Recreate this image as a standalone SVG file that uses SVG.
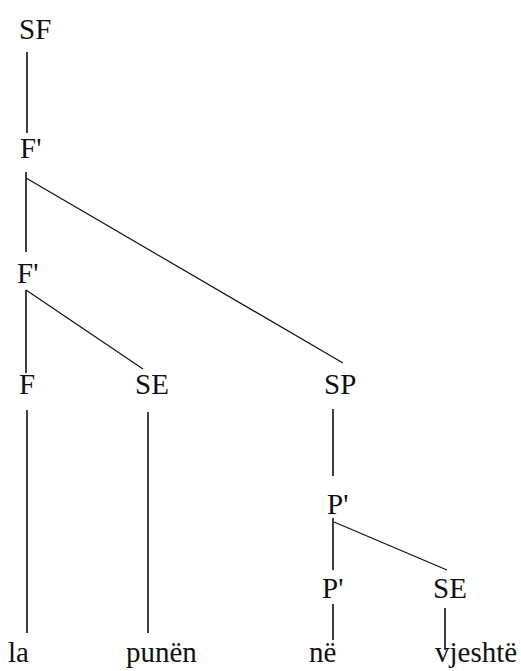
<svg xmlns="http://www.w3.org/2000/svg" width="521" height="671" viewBox="0 0 521 671">
<style>
.t{font-size:29px;fill:#111}
.v{stroke:#111;stroke-width:1.6;fill:none}
.d{stroke:#111;stroke-width:1.2;fill:none}
</style>
<rect width="521" height="671" fill="#fff"/>
<g id="connectors">
<line class="v" x1="27" y1="52" x2="27" y2="133"/>
<line class="v" x1="26" y1="172" x2="26" y2="252"/>
<line class="d" x1="26" y1="178" x2="343" y2="363"/>
<line class="v" x1="26" y1="290" x2="26" y2="373"/>
<line class="d" x1="26" y1="290" x2="143" y2="369"/>
<line class="v" x1="27" y1="410" x2="27" y2="633"/>
<line class="v" x1="148" y1="412" x2="148" y2="633"/>
<line class="v" x1="333" y1="409" x2="333" y2="476"/>
<line class="v" x1="333" y1="518" x2="333" y2="570"/>
<line class="d" x1="334" y1="522" x2="447" y2="570"/>
<line class="v" x1="333" y1="604" x2="333" y2="640"/>
<line class="v" x1="445" y1="608" x2="445" y2="650"/>
</g>
<g font-family="Liberation Serif, Tinos, Times New Roman, DejaVu Serif, Noto Serif, serif">
<g id="n-SF"><text class="t" x="19" y="39">SF</text></g>
<g id="n-F1"><text class="t" x="20" y="158">F'</text></g>
<g id="n-F2"><text class="t" x="17" y="283">F'</text></g>
<g id="n-F"><text class="t" x="19" y="394">F</text></g>
<g id="n-SE1"><text class="t" x="135" y="394">SE</text></g>
<g id="n-SP"><text class="t" x="324" y="394">SP</text></g>
<g id="n-P1"><text class="t" x="327" y="514">P'</text></g>
<g id="n-P2"><text class="t" x="322" y="598">P'</text></g>
<g id="n-SE2"><text class="t" x="433" y="598">SE</text></g>
<g id="n-la"><text class="t" x="8" y="662">la</text></g>
<g id="n-punen"><text class="t" x="126" y="662">punën</text></g>
<g id="n-ne"><text class="t" x="309" y="662">në</text></g>
<g id="n-vjeshte"><text class="t" x="435" y="662">vjeshtë</text></g>
</g>
</svg>
